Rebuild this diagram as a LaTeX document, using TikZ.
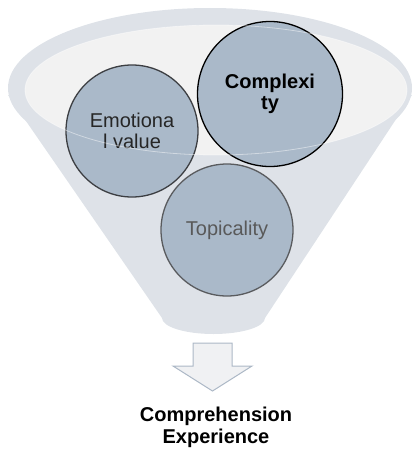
\documentclass[tikz,border=0pt]{standalone}
\usepackage{fontspec}
\setmainfont{Liberation Sans}
\definecolor{funnelgray}{RGB}{222,226,232}
\definecolor{rimwhite}{RGB}{242,242,242}
\definecolor{ballfill}{RGB}{170,185,201}
\definecolor{balledge}{RGB}{60,62,66}
\definecolor{arrowedge}{RGB}{172,184,198}
\definecolor{arrowfill}{RGB}{240,241,243}
\begin{document}
\begin{tikzpicture}[x=1pt,y=-1pt,
  bubble/.style={circle,draw=balledge,line width=1.3pt,fill=ballfill,
    align=center,inner sep=0pt,font=\fontsize{20}{21.5}\selectfont},
  outcome/.style={align=center,font=\fontsize{20}{22}\selectfont\bfseries}]
\useasboundingbox (0,0) rectangle (416,452);
% funnel body and rim
\fill[funnelgray] (8,95) -- (162,318) arc[start angle=180,end angle=360,x radius=51.5,y radius=-16]
  -- (412,95) -- cycle;
\fill[funnelgray] (210,88) ellipse[x radius=202,y radius=80];
\fill[rimwhite] (216,90) ellipse[x radius=191,y radius=65];
% the three topics
\node[bubble,minimum size=132pt,text=black!85] (emo) at (132,131) {Emotiona\\l value};
\node[bubble,minimum size=145pt,draw=black,font=\fontsize{20}{21.5}\selectfont\bfseries] (cplx) at (270,94) {Complexi\\ty};
\node[bubble,minimum size=132pt,draw=balledge!85,text=black!65] (topic) at (227,230) {Topicality};
% rim edge seen through the balls
\draw[white,opacity=0.45,line width=0.8pt] (216,90) ellipse[x radius=191,y radius=65];
% output arrow
\draw[draw=arrowedge,fill=arrowfill,line width=1pt]
  (193,343) -- (232,343) -- (232,366) -- (252,366) -- (212.5,391)
  -- (173,366) -- (193,366) -- cycle;
\node[outcome] (out) at (216,427) {Comprehension\\Experience};
\end{tikzpicture}
\end{document}
